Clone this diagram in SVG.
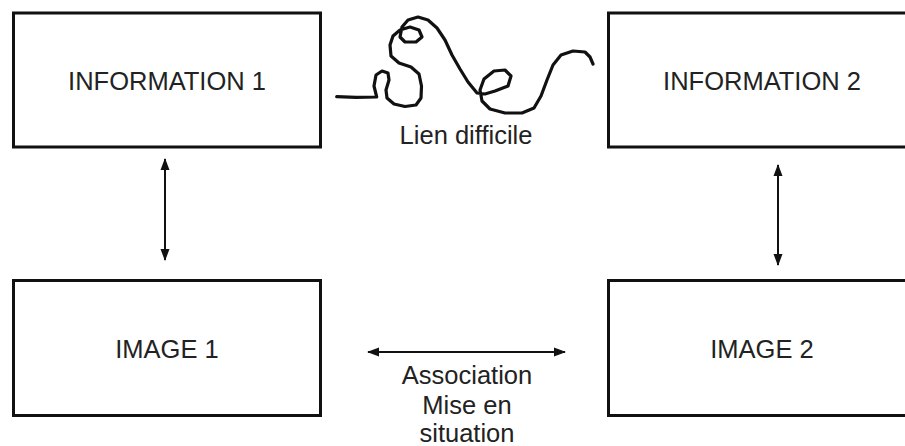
<svg xmlns="http://www.w3.org/2000/svg" width="905" height="446" viewBox="0 0 905 446">
<style>
.box{fill:#fff;stroke:#111;stroke-width:3}
.lbl{font-family:"Liberation Sans",Arial,sans-serif;font-size:25.5px;fill:#222;text-anchor:middle}
.arr{stroke:#111;stroke-width:2;fill:none;marker-start:url(#ah);marker-end:url(#ah)}
</style>
<defs>
<marker id="ah" markerUnits="userSpaceOnUse" markerWidth="12" markerHeight="12" viewBox="0 0 12 12" refX="11" refY="6" orient="auto-start-reverse">
<path d="M0,1.5 L12,6 L0,10.5 Z" fill="#111"/>
</marker>
</defs>
<rect width="905" height="446" fill="#fff"/>
<g id="info1">
<rect class="box" x="13.5" y="13" width="307" height="134"/>
<text class="lbl" x="167" y="90">INFORMATION 1</text>
</g>
<g id="info2">
<rect class="box" x="608.5" y="13" width="310" height="134"/>
<text class="lbl" x="762" y="90">INFORMATION 2</text>
</g>
<g id="image1">
<rect class="box" x="13.5" y="280.5" width="307" height="135"/>
<text class="lbl" x="167" y="358">IMAGE 1</text>
</g>
<g id="image2">
<rect class="box" x="608.5" y="280.5" width="310" height="135"/>
<text class="lbl" x="762" y="358">IMAGE 2</text>
</g>
<g id="connectors">
<line class="arr" x1="165" y1="159" x2="165" y2="260"/>
<line class="arr" x1="778" y1="165" x2="778" y2="265"/>
<line class="arr" x1="368" y1="352" x2="565" y2="352"/>
<polyline fill="none" stroke="#111" stroke-width="3.2" stroke-linejoin="round" stroke-linecap="round" points="336.7,96.7 356,97.3 376.7,97 374,86 376,75 382,71 388,73 389,80 386,90 387,98 394,104 405,106.5 416,105 421,98 421.5,86 419,74 411,67 399,63 391,56 390,45 393,36 400,30 410,27 419,30 422,37 416,42 405,42 400,37 402,27 408,20 418,17 428,20 437,28 445,40 452,55 460,69 468,82 477,93 485,94 495,91 508,86 511,76 505,70 494,71 484,79 480,90 482,101 490,109 505,113 522,113 534,108 541,96 547,80 553,65 561,55 573,51 585,52 590,57 593,64"/>
<text class="lbl" x="466" y="144">Lien difficile</text>
<text class="lbl" x="467" y="384">Association</text>
<text class="lbl" x="467" y="414">Mise en</text>
<text class="lbl" x="467" y="442">situation</text>
</g>
</svg>
